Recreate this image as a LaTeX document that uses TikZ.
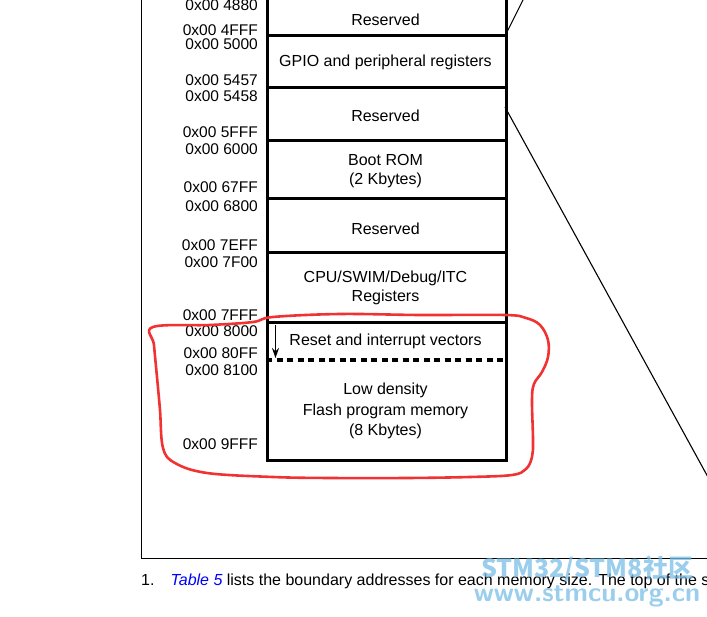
\documentclass[tikz,border=0pt]{standalone}
\usepackage{fontspec}
\setmainfont{Liberation Sans}
\newfontfamily\cjkfont{Noto Sans CJK SC}
\usetikzlibrary{arrows.meta}
\definecolor{penred}{RGB}{240,50,50}
\definecolor{wmblue}{RGB}{120,190,230}
\begin{document}
\begin{tikzpicture}[x=1pt,y=-1pt,
  region/.style={draw,line width=2.8pt,anchor=north west,minimum width=239pt,inner sep=0pt},
  boxtext/.style={font=\fontsize{16}{19.5}\selectfont,align=center,inner sep=0pt},
  addr/.style={font=\fontsize{15.5}{16}\selectfont,anchor=east,inner sep=0pt},
  frame/.style={line width=1pt},
  zoomline/.style={line width=1.1pt},
  pen/.style={penred,line width=2.6pt,line join=round}]
\useasboundingbox (0,0) rectangle (707,617);
\clip (0,0) rectangle (707,617);
% frame
\coordinate (ftl) at (141,-5);
\coordinate (fbl) at (141,558);
\coordinate (fbr) at (712,558);
\draw[frame] (ftl) -- (fbl) -- (fbr);
% regions
\node[region,minimum height=44pt] (r0) at (266,-10) {};
\node[region,minimum height=52pt] (r1) at (266,34) {};
\node[region,minimum height=53pt] (r2) at (266,86) {};
\node[region,minimum height=58pt] (r3) at (266,139) {};
\node[region,minimum height=54pt] (r4) at (266,197) {};
\node[region,minimum height=70pt] (r5) at (266,251) {};
\node[region,minimum height=138pt] (r6) at (266,321) {};
% texts
\node[boxtext] (t0) at (385.5,19.5) {Reserved};
\node[boxtext] (t1) at (385.5,62.5) {GPIO and peripheral registers};
\node[boxtext] (t2) at (385.5,115.5) {Reserved};
\node[boxtext] (t3) at (385.5,171) {Boot ROM\\(2 Kbytes)};
\node[boxtext] (t4) at (385.5,228.5) {Reserved};
\node[boxtext] (t5) at (385.5,288) {CPU/SWIM/Debug/ITC\\Registers};
\node[boxtext] (t6a) at (385.5,341.5) {Reset and interrupt vectors};
\node[boxtext,font=\fontsize{16}{20.5}\selectfont] (t6) at (385.5,411) {Low density\\Flash program memory\\(8 Kbytes)};
% dashed separator
\coordinate (dl) at (266,360);
\coordinate (dr) at (505,360);
\draw[line width=3.2pt,dash pattern=on 6pt off 4.5pt] (dl) -- (dr);
% arrow
\coordinate (a1) at (275.5,325);
\coordinate (a2) at (275.5,358);
\draw[line width=1.5pt,-{Stealth[length=10pt,width=7pt]}] (a1) -- (a2);
% addresses
\node[addr] (l1) at (258,5) {0x00 4880};
\node[addr] (l2) at (258,30) {0x00 4FFF};
\node[addr] (l3) at (258,44) {0x00 5000};
\node[addr] (l4) at (258,80) {0x00 5457};
\node[addr] (l5) at (258,96) {0x00 5458};
\node[addr] (l6) at (258,132) {0x00 5FFF};
\node[addr] (l7) at (258,149) {0x00 6000};
\node[addr] (l8) at (258,187) {0x00 67FF};
\node[addr] (l9) at (258,206) {0x00 6800};
\node[addr] (l10) at (258,245) {0x00 7EFF};
\node[addr] (l11) at (258,262) {0x00 7F00};
\node[addr] (l12) at (258,315) {0x00 7FFF};
\node[addr] (l13) at (258,331) {0x00 8000};
\node[addr] (l14) at (258,353) {0x00 80FF};
\node[addr] (l15) at (258,370) {0x00 8100};
\node[addr] (l16) at (258,444) {0x00 9FFF};
% zoom lines
\coordinate (z1a) at (506,34);
\coordinate (z1b) at (525,-4);
\coordinate (z2a) at (505,107);
\coordinate (z2b) at (720,499);
\draw[zoomline] (z1a) -- (z1b);
\draw[zoomline] (z2a) -- (z2b);
% red hand-drawn outline
\draw[pen] plot[smooth cycle,tension=0.6] coordinates {
 (153,327) (210,325) (253,322) (273,317) (340,314) (420,315) (505,315) (526,318)
 (540,325) (548,340) (548,357) (542,372) (534,384) (532,400) (533,440) (532,457)
 (526,469) (512,475) (470,477) (407,478) (330,478) (273,477) (207,473) (175,463)
 (163,448) (160,410) (157,377) (154,345)};
% footnote
\node[anchor=base west,inner sep=0pt,font=\fontsize{16}{18}\selectfont] (fn) at (141,585)
 {1.\hspace{16pt}\textcolor{blue}{\itshape Table 5} lists the boundary addresses for each memory size. The top of the stack};
% watermark
\node[inner sep=0pt,text=wmblue,opacity=0.75,font=\cjkfont\bfseries\fontsize{25}{26}\selectfont] (wm1) at (587,569) {STM32/STM8社区};
\node[inner sep=0pt,text=wmblue,opacity=0.75,font=\sffamily\bfseries\fontsize{27}{28}\selectfont] (wm2) at (587,596) {www.stmcu.org.cn};
\end{tikzpicture}
\end{document}
